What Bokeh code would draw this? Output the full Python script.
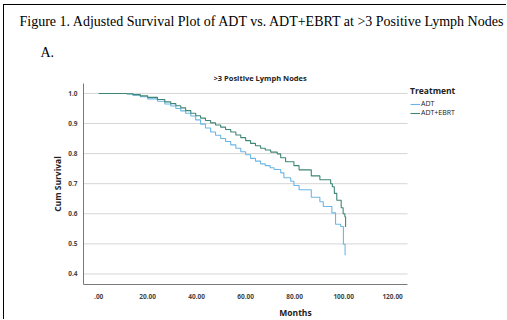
from bokeh.plotting import figure
from bokeh.models import Range1d, FixedTicker, Title, Legend, LegendItem
from bokeh.embed import file_html
from bokeh.resources import INLINE

# ---- data ----
adt_t = [0, 11.5, 14, 17, 20, 24, 27, 29.4, 31.5, 33.5, 35.5, 37.6, 39.6, 41.6,
         43.6, 45.7, 47.7, 49.8, 51.8, 53.9, 56, 58, 60, 62, 64, 66.1, 68, 70,
         71.6, 74.3, 75.6, 78.4, 79.7, 81.8, 86.8, 90.3, 91.7, 95.2, 96.7,
         98.8, 99.9, 100.6]
adt_s = [1.0, 0.998, 0.994, 0.989, 0.982, 0.974, 0.965, 0.958, 0.950, 0.942,
         0.934, 0.925, 0.912, 0.898, 0.885, 0.872, 0.861, 0.850, 0.840, 0.829,
         0.818, 0.806, 0.796, 0.784, 0.775, 0.766, 0.760, 0.753, 0.747, 0.736,
         0.720, 0.708, 0.694, 0.680, 0.655, 0.640, 0.624, 0.603, 0.565,
         0.558, 0.499, 0.462]

ebrt_t = [0, 11.5, 14, 17, 20, 24, 27, 29.4, 31.5, 33.5, 35.5, 37.6, 39.6, 41.6,
          43.6, 45.7, 47.7, 49.8, 51.8, 53.9, 56, 58, 60, 62, 64, 66.1, 68,
          70.2, 72.9, 74.3, 76.3, 79.7, 81.8, 86.8, 90.3, 94.7, 95.4, 96.2,
          97.2, 99.0, 99.8, 100.5, 100.8]
ebrt_s = [1.0, 0.999, 0.996, 0.992, 0.987, 0.980, 0.972, 0.966, 0.959, 0.952,
          0.943, 0.934, 0.926, 0.918, 0.910, 0.902, 0.895, 0.888, 0.880, 0.872,
          0.862, 0.853, 0.843, 0.834, 0.826, 0.818, 0.812, 0.805, 0.799, 0.786,
          0.773, 0.760, 0.746, 0.726, 0.713, 0.700, 0.690, 0.668, 0.645,
          0.620, 0.600, 0.590, 0.556]

x_ticks = [0, 20, 40, 60, 80, 100, 120]
x_tick_labels = [".00", "20.00", "40.00", "60.00", "80.00", "100.00", "120.00"]
y_ticks = [0.4, 0.5, 0.6, 0.7, 0.8, 0.9, 1.0]
y_tick_labels = ["0.4", "0.5", "0.6", "0.7", "0.8", "0.9", "1.0"]
series_names = ["ADT", "ADT+EBRT"]
series_colors = ["#6cb6e6", "#3e8676"]

X_MIN, X_MAX = -6.2, 126.1      # extent of the drawn plot area (months)
X_VIEW_MAX = 166.9              # frame continues under the legend
Y_MIN, Y_MAX = 0.365, 1.033

SANS = "Open Sans"
SERIF = "Liberation Serif"
DARK = "#222222"

p = figure(width=503, height=315, output_backend="svg", toolbar_location=None,
           x_range=Range1d(X_MIN, X_VIEW_MAX), y_range=Range1d(Y_MIN, Y_MAX),
           min_border_left=79, min_border_right=0, min_border_top=78,
           min_border_bottom=29, title=None)
p.styles = {"margin-left": "3px", "margin-top": "4px",
            "border-left": "1px solid black", "border-top": "1px solid black"}
p.outline_line_color = None
p.background_fill_color = "white"
p.border_fill_color = "white"

# axes
for ax in (p.xaxis[0], p.yaxis[0]):
    ax.axis_line_color = "#7a7a7a"
    ax.axis_line_width = 1
    ax.major_tick_line_color = None
    ax.minor_tick_line_color = None
    ax.major_tick_out = 0
    ax.major_tick_in = 0
    ax.minor_tick_out = 0
    ax.minor_tick_in = 0
    ax.major_label_text_font = SANS
    ax.major_label_text_font_size = "6.5px"
    ax.major_label_text_color = "#444444"
    ax.major_label_text_font_style = "bold"
    ax.axis_label_text_font = SANS
    ax.axis_label_text_font_size = "8.5px"
    ax.axis_label_text_font_style = "bold"
    ax.axis_label_text_color = DARK
p.xaxis.ticker = FixedTicker(ticks=x_ticks)
p.xaxis.bounds = (X_MIN, X_MAX)
p.xaxis.major_label_overrides = {t: l for t, l in zip(x_ticks, x_tick_labels)}
p.xaxis.major_label_standoff = 9
p.xaxis.axis_label = "Months"
p.xaxis.axis_label_standoff = 5
p.yaxis.ticker = FixedTicker(ticks=y_ticks)
p.yaxis.major_label_overrides = {t: l for t, l in zip(y_ticks, y_tick_labels)}
p.yaxis.major_label_standoff = 6
p.yaxis.axis_label = "Cum Survival"
p.yaxis.axis_label_standoff = 2

# horizontal reference lines at the y ticks, limited to the plot area
p.xgrid.grid_line_color = None
p.ygrid.grid_line_color = None
p.segment(x0=[X_MIN] * len(y_ticks), y0=y_ticks, x1=[X_MAX] * len(y_ticks),
          y1=y_ticks, line_color="#d6d6d6", line_width=1)

# survival curves
r_adt = p.step(adt_t, adt_s, mode="after", line_color=series_colors[0], line_width=1.1)
r_ebrt = p.step(ebrt_t, ebrt_s, mode="after", line_color=series_colors[1], line_width=1.1)

# titles (added innermost first)
p.add_layout(Title(text=">3 Positive Lymph Nodes", align="left", offset=130,
                   text_font=SANS, text_font_size="7.5px", text_font_style="bold",
                   text_color=DARK, standoff=1), "above")
p.add_layout(Title(text="A.", align="left", offset=-43,
                   text_font=SERIF, text_font_size="14px", text_font_style="normal",
                   text_color="black", standoff=21), "above")
p.add_layout(Title(text="Figure 1.  Adjusted Survival Plot of ADT vs. ADT+EBRT at >3 Positive Lymph Nodes",
                   align="left", offset=-64,
                   text_font=SERIF, text_font_size="14px", text_font_style="normal",
                   text_color="black", standoff=7), "above")

# legend (inside the frame, right of the drawn plot area)
legend = Legend(items=[LegendItem(label=series_names[0], renderers=[r_adt]),
                       LegendItem(label=series_names[1], renderers=[r_ebrt])],
                location=(327, 167), title="Treatment",
                title_text_font=SANS, title_text_font_size="8.5px",
                title_text_font_style="bold", title_text_color=DARK,
                title_standoff=3,
                label_text_font=SANS, label_text_font_size="7px",
                label_text_color=DARK, label_standoff=1,
                glyph_width=10, glyph_height=8, label_height=8, spacing=0,
                padding=3, margin=0, border_line_color=None,
                background_fill_alpha=0)
p.add_layout(legend)

open("out.html", "w").write(file_html(p, INLINE))
